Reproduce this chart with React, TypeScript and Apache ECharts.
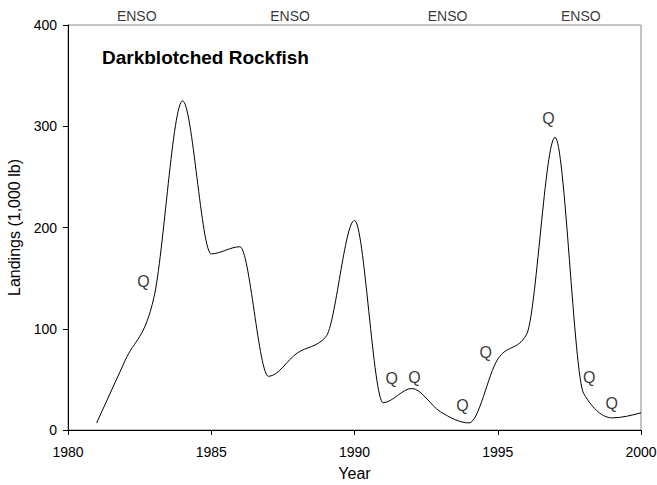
import React, { useEffect, useRef } from "react";
import * as echarts from "echarts";

const years = [1981, 1982, 1983, 1984, 1985, 1986, 1987, 1988, 1989, 1990, 1991, 1992, 1993, 1994, 1995, 1996, 1997, 1998, 1999, 2000];
const landings = [7, 69, 131, 325, 174, 181, 53, 76, 92, 207, 27, 41, 18, 7, 70, 94, 289, 36, 12, 17];

const qYears = [1982.63, 1991.3, 1992.09, 1993.77, 1994.58, 1996.77, 1998.19, 1998.98];
const qValues = [147, 51, 52, 24, 77, 308, 52, 26];

const ensoYears = [1982.4, 1987.75, 1993.25, 1997.9];
const ensoLevel = 409;

const xTicks = [1980, 1985, 1990, 1995, 2000];
const yTicks = [0, 100, 200, 300, 400];

const FONT = "'Liberation Sans', Arial, Helvetica, sans-serif";

// Monotone cubic (Steffen) tangents, computed from the data points
function tangents(xs: number[], ys: number[]): number[] {
  const n = xs.length;
  const m = new Array(n).fill(0);
  const sign = (v: number) => (v < 0 ? -1 : 1);
  for (let i = 1; i < n - 1; i++) {
    const h0 = xs[i] - xs[i - 1];
    const h1 = xs[i + 1] - xs[i];
    const s0 = (ys[i] - ys[i - 1]) / h0;
    const s1 = (ys[i + 1] - ys[i]) / h1;
    const p = (s0 * h1 + s1 * h0) / (h0 + h1);
    m[i] = (sign(s0) + sign(s1)) * Math.min(Math.abs(s0), Math.abs(s1), 0.5 * Math.abs(p)) || 0;
  }
  const hA = xs[1] - xs[0];
  m[0] = (3 * (ys[1] - ys[0]) / hA - m[1]) / 2;
  const hB = xs[n - 1] - xs[n - 2];
  m[n - 1] = (3 * (ys[n - 1] - ys[n - 2]) / hB - m[n - 2]) / 2;
  return m;
}

export default function App() {
  const ref = useRef<HTMLDivElement>(null);
  useEffect(() => {
    if (!ref.current) return;
    const chart = echarts.init(ref.current, null, { renderer: "svg" });
    const tg = tangents(years, landings);
    chart.setOption({
      animation: false,
      textStyle: { fontFamily: FONT },
      title: {
        text: "Darkblotched Rockfish",
        left: 97,
        top: 43,
        textStyle: { fontFamily: FONT, fontSize: 19, fontWeight: "bold", color: "#000" },
      },
      grid: {
        left: 68,
        right: 16,
        top: 25,
        bottom: 55,
        outerBoundsMode: "none",
        containLabel: false,
        show: true,
        borderColor: "#888",
        borderWidth: 1,
        backgroundColor: "transparent",
      },
      xAxis: {
        type: "value",
        min: xTicks[0],
        max: xTicks[xTicks.length - 1],
        interval: 5,
        name: "Year",
        nameLocation: "middle",
        nameGap: 35,
        nameTextStyle: { fontFamily: FONT, fontSize: 16, color: "#000" },
        axisLine: { show: true, lineStyle: { color: "#000", width: 1 } },
        axisTick: { show: true, inside: false, length: 5, lineStyle: { color: "#000" } },
        axisLabel: { fontFamily: FONT, fontSize: 14, color: "#000", margin: 15, formatter: (v: number) => String(v) },
        splitLine: { show: false },
      },
      yAxis: {
        type: "value",
        min: yTicks[0],
        max: yTicks[yTicks.length - 1],
        interval: 100,
        name: "Landings (1,000 lb)",
        nameLocation: "middle",
        nameGap: 43,
        nameRotate: 90,
        nameTextStyle: { fontFamily: FONT, fontSize: 16, color: "#000" },
        axisLine: { show: true, lineStyle: { color: "#000", width: 1 } },
        axisTick: { show: true, inside: false, length: 5, lineStyle: { color: "#000" } },
        axisLabel: { fontFamily: FONT, fontSize: 14, color: "#000", margin: 11, formatter: (v: number) => String(v) },
        splitLine: { show: false },
      },
      series: [
        {
          type: "custom",
          data: years.map((y, i) => [y, landings[i]]),
          encode: { x: 0, y: 1 },
          renderItem: (params: any, api: any) => {
            if (params.dataIndex !== 0) return null;
            const p0 = api.coord([years[0], landings[0]]);
            let d = `M${p0[0]},${p0[1]}`;
            for (let i = 0; i < years.length - 1; i++) {
              const dx = (years[i + 1] - years[i]) / 3;
              const c1 = api.coord([years[i] + dx, landings[i] + dx * tg[i]]);
              const c2 = api.coord([years[i + 1] - dx, landings[i + 1] - dx * tg[i + 1]]);
              const e = api.coord([years[i + 1], landings[i + 1]]);
              d += ` C${c1[0]},${c1[1]} ${c2[0]},${c2[1]} ${e[0]},${e[1]}`;
            }
            return {
              type: "path",
              shape: { pathData: d },
              style: { fill: "none", stroke: "#000", lineWidth: 1 },
            };
          },
        },
        {
          type: "scatter",
          data: qYears.map((y, i) => [y, qValues[i]]),
          symbolSize: 1,
          itemStyle: { color: "transparent" },
          label: {
            show: true,
            formatter: "Q",
            position: "inside",
            fontFamily: FONT,
            fontSize: 16,
            color: "#000",
          },
        },
        {
          type: "scatter",
          data: ensoYears.map((y) => [y, ensoLevel]),
          symbolSize: 1,
          clip: false,
          itemStyle: { color: "transparent" },
          label: {
            show: true,
            formatter: "ENSO",
            position: "inside",
            fontFamily: FONT,
            fontSize: 14,
            color: "#000",
          },
        },
      ],
    });
    return () => chart.dispose();
  }, []);
  return (
    <div
      ref={ref}
      style={{ position: "fixed", left: 0, top: 0, width: 657, height: 485, background: "#fff" }}
    />
  );
}
